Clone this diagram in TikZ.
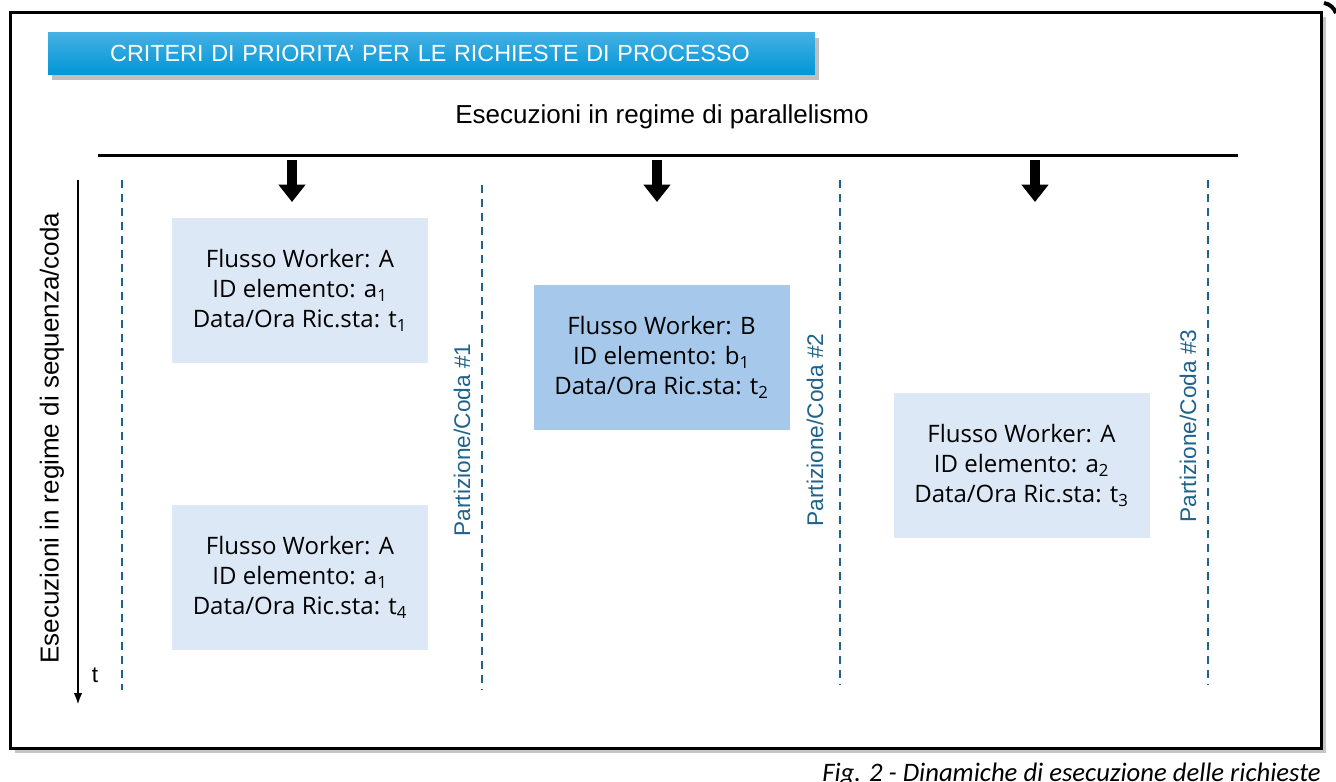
\documentclass[tikz,border=0pt]{standalone}
\usepackage{fontspec}
\setmainfont{Liberation Sans}
\newfontfamily\boxfont{Open Sans}
\newfontfamily\capfont{Carlito}
\usetikzlibrary{arrows.meta, shadows}
\usepackage{xcolor}
\definecolor{queueBlue}{RGB}{31, 99, 140}
\definecolor{titleTop}{RGB}{70, 176, 228}
\definecolor{titleBottom}{RGB}{0, 150, 214}
\definecolor{itemLight}{RGB}{220, 232, 245}
\definecolor{itemMid}{RGB}{166, 200, 234}

\begin{document}
\begin{tikzpicture}
    [
        x=0.75pt, y=-0.75pt,
        item/.style={
            rectangle, fill=itemLight, minimum width=192pt, minimum height=108.75pt,
            align=center, font=\boxfont\fontsize{18}{22.5}\selectfont
        },
        queue/.style={draw=queueBlue, line width=1.5pt, dash pattern=on 6pt off 4.5pt},
        queuelabel/.style={rotate=90, text=queueBlue, font=\fontsize{17}{20}\selectfont},
        flowarrow/.style={line width=7.5pt, -{Triangle[length=13pt,width=19.5pt]}}
    ]

\useasboundingbox (0,0) rectangle (1336,782);

% Frame
\draw[line width=2.25pt, fill=white,
      drop shadow={shadow xshift=4pt, shadow yshift=-4pt, fill=gray, opacity=.45}]
    (10,12) rectangle (1321,748);
\draw[line width=3pt] (1324,3) .. controls (1330,4) and (1334,8) .. (1336,13);

% Title
\node (title) [
        rectangle, minimum width=575pt, minimum height=32pt, inner xsep=0pt,
        text width=575pt, align=left, text=white,
        top color=titleTop, bottom color=titleBottom,
        drop shadow={shadow xshift=3pt, shadow yshift=-4pt, fill=gray, opacity=.5},
        font=\fontsize{17.5}{20}\selectfont
    ] at (431.5,53.5) {\hspace*{46.5pt}CRITERI DI PRIORITA’ PER LE RICHIESTE DI PROCESSO};

\node (parallel) [font=\fontsize{19.5}{22}\selectfont] at (662,117)
    {Esecuzioni in regime di parallelismo};

\coordinate (barL) at (98,155);
\coordinate (barR) at (1238,155);
\draw[line width=2.25pt] (barL) -- (barR);

% Arrows into the queues
\foreach \x [count=\i] in {292, 657, 1035} {
    \coordinate (in\i) at (\x,160);
    \coordinate (out\i) at (\x,202);
    \draw[flowarrow] (in\i) -- (out\i);
}

% Queue borders
\foreach \x/\a/\b [count=\i] in {122/180/690, 482/185/690, 840/180/685, 1208/180/685} {
    \coordinate (qtop\i) at (\x,\a);
    \coordinate (qbot\i) at (\x,\b);
    \draw[queue] (qtop\i) -- (qbot\i);
}

% Time axis
\coordinate (time0) at (78,180);
\coordinate (time1) at (78,705);
\draw[line width=1.8pt, -{Latex[length=9pt,width=6.5pt]}] (time0) -- (time1);
\node (t) [font=\fontsize{17}{20}\selectfont] at (95,675) {t};
\node (sequence) [rotate=90, font=\fontsize{19.5}{22}\selectfont] at (52,438)
    {Esecuzioni in regime di sequenza/coda};

% Queue labels
\node (coda1) [queuelabel] at (462,440) {Partizione/Coda \#1};
\node (coda2) [queuelabel] at (815,430) {Partizione/Coda \#2};
\node (coda3) [queuelabel] at (1188,426) {Partizione/Coda \#3};

% Requests
\node (reqA1) [item] at (300,290.5)
    {Flusso Worker: A\\ID elemento: a\textsubscript{1}\\Data/Ora Ric.sta: t\textsubscript{1}};

\node (reqA4) [item] at (300,577.5)
    {Flusso Worker: A\\ID elemento: a\textsubscript{1}\\Data/Ora Ric.sta: t\textsubscript{4}};

\node (reqB1) [item, fill=itemMid] at (661.5,357.5)
    {Flusso Worker: B\\ID elemento: b\textsubscript{1}\\Data/Ora Ric.sta: t\textsubscript{2}};

\node (reqA2) [item] at (1021.5,465.5)
    {Flusso Worker: A\\ID elemento: a\textsubscript{2}\\Data/Ora Ric.sta: t\textsubscript{3}};

% Caption
\node (caption) [anchor=base west, inner sep=0pt, font=\capfont\itshape\fontsize{20}{22}\selectfont]
    at (822,781) {Fig. 2 - Dinamiche di esecuzione delle richieste};

\end{tikzpicture}
\end{document}
